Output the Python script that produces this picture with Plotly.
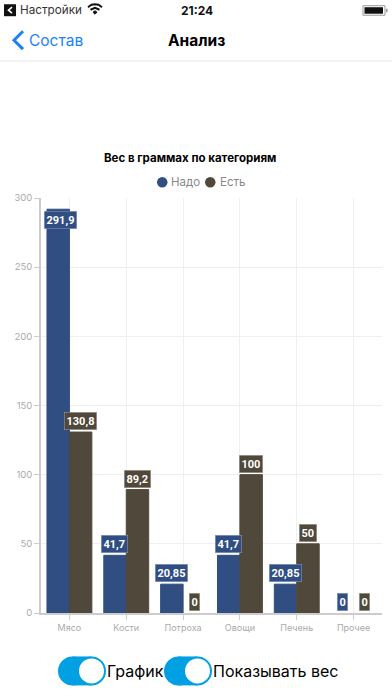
import plotly.graph_objects as go

categories = ["Мясо", "Кости", "Потроха", "Овощи", "Печень", "Прочее"]
need = [291.9, 41.7, 20.85, 41.7, 20.85, 0]
have = [130.8, 89.2, 0, 100, 50, 0]
need_labels = ["291,9", "41,7", "20,85", "41,7", "20,85", "0"]
have_labels = ["130,8", "89,2", "0", "100", "50", "0"]
y_ticks = [0, 50, 100, 150, 200, 250, 300]
NEED_NAME, HAVE_NAME = "Надо", "Есть"
NEED_COLOR, HAVE_COLOR = "#304e82", "#50483a"

W, H = 392, 696
L, R, T, B = 41, 10, 198, 82.5
PW, PH = W - L - R, H - T - B
FONT = "Inter, Roboto, sans-serif"

def px(x): return (x - L) / PW
def py(y): return 1 - (y - T) / PH

fig = go.Figure()
fig.add_bar(x=categories, y=need, name=NEED_NAME, marker_color=NEED_COLOR,
            marker_line=dict(color=NEED_COLOR, width=[1 if v > 0 else 0 for v in need]), showlegend=False, hoverinfo="skip")
fig.add_bar(x=categories, y=have, name=HAVE_NAME, marker_color=HAVE_COLOR,
            marker_line=dict(color=HAVE_COLOR, width=[1 if v > 0 else 0 for v in have]), showlegend=False, hoverinfo="skip")

anns = []
BAR_OFFSET = 11.4
for labels, vals, color, sign, edge in ((need_labels, need, NEED_COLOR, -1, "#8fa0bd"), (have_labels, have, HAVE_COLOR, 1, "#a9a498")):
    for c, t, v in zip(categories, labels, vals):
        clamped = v > 280
        anns.append(dict(x=c, y=v, xref="x", yref="y", text=f"<b>{t}</b>", showarrow=False,
                         xshift=sign * BAR_OFFSET + (2 if clamped else 0),
                         yshift=-11 if clamped else 11,
                         font=dict(family="Roboto, sans-serif", size=11, color="white"),
                         bgcolor=color, bordercolor=edge, borderwidth=0.5, borderpad=2))

def text(x, y, s, size, color="#000", anchor="left", weight=False):
    anns.append(dict(x=px(x), y=py(y), xref="paper", yref="paper", text=f"<b>{s}</b>" if weight else s,
                     showarrow=False, xanchor=anchor, yanchor="middle", borderpad=0, borderwidth=0,
                     font=dict(family=FONT, size=size, color=color)))

text(20, 10, "Настройки", 11.7, "#333")
text(197, 10, "21:24", 12, "#111", "center", True)
text(29, 40, "Состав", 15.5, "#1a82f7")
text(196, 40, "Анализ", 15.5, "#000", "center", True)
text(189.5, 158, "Вес в граммах по категориям", 11.5, "#000", "center", True)
text(171, 182, NEED_NAME, 11.5, "#888")
text(219.5, 182, HAVE_NAME, 11.5, "#888")
text(107, 672, "График", 16)
text(213, 672, "Показывать вес", 16)

def rect(x0, y0, x1, y1, fill, line=None, kind="rect", lw=0):
    return dict(type=kind, xref="paper", yref="paper", x0=px(x0), x1=px(x1), y0=py(y0), y1=py(y1),
                fillcolor=fill, line=dict(color=line or fill, width=lw), layer="above")

def path(pts, color, width, close=False, fill=None):
    d = "M " + " L ".join(f"{px(a):.5f},{py(b):.5f}" for a, b in pts) + (" Z" if close else "")
    return dict(type="path", xref="paper", yref="paper", path=d, fillcolor=fill or "rgba(0,0,0,0)",
                line=dict(color=color, width=width), layer="above")

shapes = [
    rect(0, 60, W, 61.5, "#efeff1"),
    rect(4, 4, 16, 16, "#111"),
    path([(12, 7), (8.5, 10), (12, 13)], "#fff", 1.6),
    path([(88, 7), (91.5, 4.5), (95, 4), (98.5, 4.5), (102, 7)], "#111", 2),
    path([(90.5, 9.5), (95, 7.5), (99.5, 9.5)], "#111", 2),
    path([(93, 12), (95, 10.5), (97, 12), (95, 14)], "#111", 1, True, "#111"),
    rect(363, 5.5, 385, 15, "#fff", "#999", lw=1),
    rect(364.5, 7, 383, 13.5, "#111"),
    rect(386, 8.5, 387.5, 12, "#999"),
    path([(23, 31), (14, 40), (23, 49)], "#1a82f7", 3),
    rect(157, 177, 167.5, 187.5, NEED_COLOR, kind="circle"),
    rect(205, 177, 215.5, 187.5, HAVE_COLOR, kind="circle"),
]
for x0 in (58, 164):
    shapes += [
        rect(x0, 657, x0 + 29, 686, "#00a0e3", kind="circle"),
        rect(x0 + 14.5, 657, x0 + 33.5, 686, "#00a0e3"),
        rect(x0 + 19, 657, x0 + 48, 686, "#00a0e3", kind="circle"),
        rect(x0 + 21, 659, x0 + 46, 684, "#ffffff", kind="circle"),
    ]

fig.update_layout(
    width=W, height=H, autosize=False, margin=dict(l=L, r=R, t=T, b=B),
    paper_bgcolor="white", plot_bgcolor="white", barmode="group", bargap=0.21, bargroupgap=0,
    font=dict(family=FONT), annotations=anns, shapes=shapes, showlegend=False,
    xaxis=dict(type="category", showgrid=True, gridcolor="#efefef", gridwidth=1, ticks="outside", ticklen=5,
               tickcolor="#ccc", showline=True, linecolor="#ccc", linewidth=1.5, zeroline=False,
               tickfont=dict(family=FONT, size=9, color="#aaa"), tickangle=0, automargin=False),
    yaxis=dict(range=[0, 300], tickvals=y_ticks, showgrid=True, gridcolor="#efefef", gridwidth=1, ticks="outside",
               ticklen=5, tickcolor="#ccc", showline=True, linecolor="#ccc", linewidth=1.5, zeroline=False,
               tickfont=dict(family=FONT, size=9.5, color="#aaa"), automargin=False),
)
fig.write_html("out.html", config=dict(displayModeBar=False),
               post_script="document.body.style.margin='0';document.body.style.overflow='hidden';")
